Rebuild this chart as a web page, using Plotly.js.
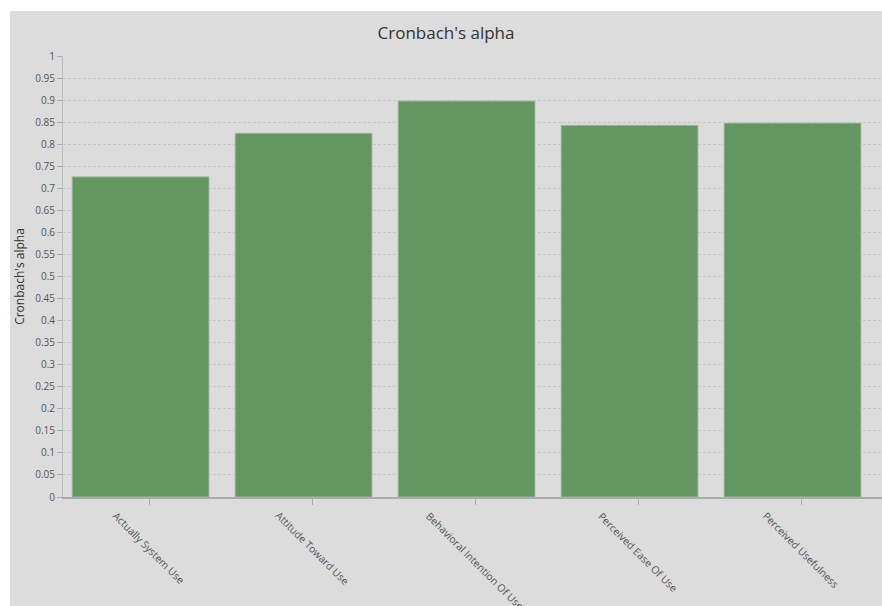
<!DOCTYPE html>
<html>
<head>
<meta charset="utf-8">
<script src="https://cdn.plot.ly/plotly-3.0.1.min.js"></script>
<style>
html,body{margin:0;padding:0;background:#ffffff;}
#chart{position:absolute;left:10px;top:11px;width:872px;height:595px;}
</style>
</head>
<body>
<div id="chart"></div>
<script>
const categories = ["Actually System Use", "Attitude Toward Use", "Behavioral Intention Of Use", "Perceived Ease Of Use", "Perceived Usefulness"];
const alphaValues = [0.726, 0.825, 0.898, 0.843, 0.848];
const yTickVals = [0,0.05,0.1,0.15,0.2,0.25,0.3,0.35,0.4,0.45,0.5,0.55,0.6,0.65,0.7,0.75,0.8,0.85,0.9,0.95,1];
const yTickText = ["0","0.05","0.1","0.15","0.2","0.25","0.3","0.35","0.4","0.45","0.5","0.55","0.6","0.65","0.7","0.75","0.8","0.85","0.9","0.95","1"];

const xPos = categories.map((c, i) => i);

const trace = {
  type: 'bar',
  x: xPos,
  y: alphaValues,
  width: 0.84,
  offset: -0.472,
  marker: {color: 'rgb(100,150,98)', line: {color: 'rgba(170,190,168,0.9)', width: 1}},
  hoverinfo: 'none'
};

// rotated category labels, centred under each tick (as in the reference)
const labelAnnotations = categories.map((c, i) => ({
  text: c, x: i, xref: 'x', y: -9/441, yref: 'paper',
  xanchor: 'center', yanchor: 'top', textangle: 45, showarrow: false,
  font: {size: 10.3, color: '#555'}
}));

const layout = {
  width: 872, height: 595,
  paper_bgcolor: '#dcdcdc', plot_bgcolor: '#dcdcdc',
  margin: {l: 53, r: 0, t: 45, b: 109},
  font: {family: '"Open Sans", "Noto Sans", sans-serif', color: '#555'},
  title: {text: "Cronbach's alpha", font: {size: 17, color: '#333'}, x: 0.5, xanchor: 'center', y: 1 - 22/595, yanchor: 'middle', yref: 'container'},
  showlegend: false,
  bargap: 0,
  annotations: labelAnnotations,
  xaxis: {
    range: [-0.528, 4.497],
    tickmode: 'array', tickvals: xPos, showticklabels: false,
    ticks: 'outside', ticklen: 6, tickcolor: '#aaa',
    showline: true, linecolor: '#aaa', linewidth: 1.5,
    showgrid: false, zeroline: false, fixedrange: true
  },
  yaxis: {
    range: [0, 1],
    tickmode: 'array', tickvals: yTickVals, ticktext: yTickText,
    tickfont: {size: 10, color: '#555'},
    ticks: 'outside', ticklen: 5, tickcolor: '#aaa',
    showline: true, linecolor: '#bbb', linewidth: 1,
    showgrid: true, gridcolor: '#c6c6c6', griddash: '3px,2px', gridwidth: 1,
    zeroline: false, fixedrange: true,
    title: {text: "Cronbach's alpha", font: {size: 12, color: '#333'}, standoff: 8}
  }
};

Plotly.newPlot('chart', [trace], layout, {staticPlot: true, displayModeBar: false});
</script>
</body>
</html>
